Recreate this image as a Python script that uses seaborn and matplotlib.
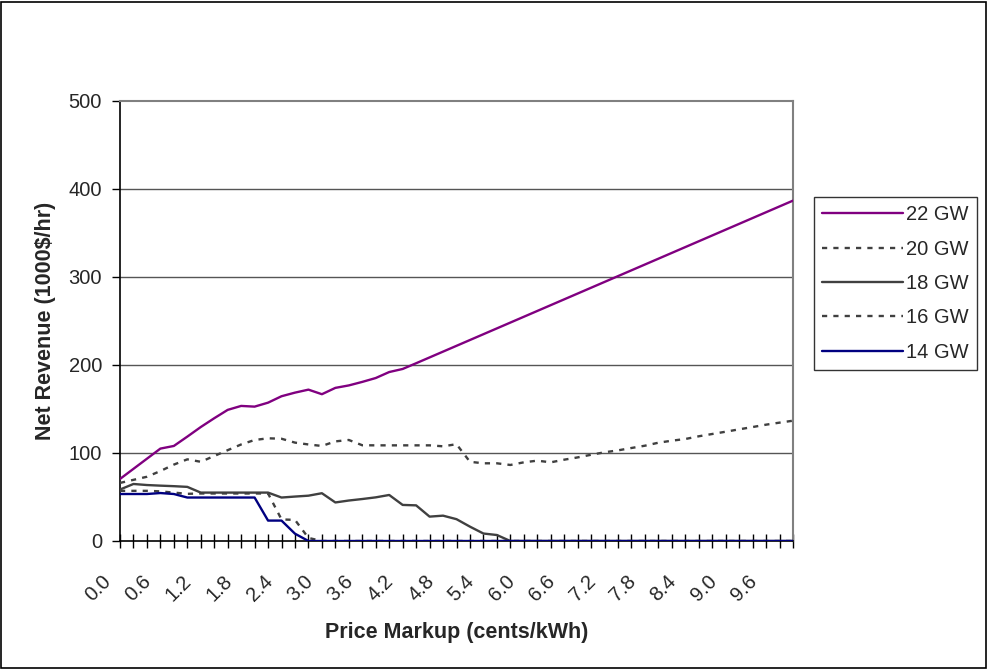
import matplotlib
matplotlib.use("Agg")
import matplotlib.pyplot as plt
from matplotlib.patches import Rectangle
import seaborn as sns
import pandas as pd

# Price markup categories (cents/kWh)
markup = [0.0, 0.2, 0.4, 0.6, 0.8, 1.0, 1.2, 1.4, 1.6, 1.8,
          2.0, 2.2, 2.4, 2.6, 2.8, 3.0, 3.2, 3.4, 3.6, 3.8,
          4.0, 4.2, 4.4, 4.6, 4.8, 5.0, 5.2, 5.4, 5.6, 5.8,
          6.0, 6.2, 6.4, 6.6, 6.8, 7.0, 7.2, 7.4, 7.6, 7.8,
          8.0, 8.2, 8.4, 8.6, 8.8, 9.0, 9.2, 9.4, 9.6, 9.8, 10.0]

# Net revenue (1000$/hr) for each system load level
rev_22gw = [70.5, 82.0, 93.5, 105.0, 108.0, 118.6, 129.5, 139.5, 149.0, 153.5,
            152.7, 157.2, 164.5, 168.6, 172.0, 166.8, 174.0, 176.8, 180.8, 185.2,
            192.0, 195.5, 202.0, 208.6, 215.2, 221.8, 228.4, 235.0, 241.6, 248.2,
            254.8, 261.4, 268.0, 274.6, 281.2, 287.8, 294.4, 301.0, 307.6, 314.2,
            320.8, 327.4, 334.0, 340.6, 347.2, 353.8, 360.4, 367.0, 373.6, 380.2,
            386.8]
rev_20gw = [66.0, 69.5, 73.0, 79.5, 86.8, 92.8, 90.0, 96.6, 103.2, 109.7,
            114.8, 116.7, 116.2, 111.8, 109.7, 108.0, 113.2, 114.8, 108.8, 108.7,
            108.7, 108.7, 108.7, 108.7, 107.6, 110.0, 90.0, 88.3, 88.3, 86.4,
            89.4, 91.3, 89.4, 92.4, 95.0, 98.0, 100.8, 103.0, 105.7, 108.3,
            111.7, 114.0, 115.9, 119.0, 121.6, 124.2, 126.9, 129.5, 132.2, 134.5,
            136.7]
rev_18gw = [58.5, 64.8, 63.6, 62.9, 62.3, 61.5, 55.0, 55.0, 55.0, 55.0,
            55.0, 55.0, 49.4, 50.5, 51.5, 54.3, 43.8, 46.0, 47.7, 49.6,
            52.3, 41.0, 40.5, 27.7, 28.8, 24.8, 16.3, 8.5, 6.8, 0.0,
            0.0, 0.0, 0.0, 0.0, 0.0, 0.0, 0.0, 0.0, 0.0, 0.0,
            0.0, 0.0, 0.0, 0.0, 0.0, 0.0, 0.0, 0.0, 0.0, 0.0,
            0.0]
rev_16gw = [57.0, 57.0, 57.0, 56.4, 55.0, 53.6, 54.0, 54.0, 54.0, 54.0,
            54.0, 54.0, 24.5, 24.0, 3.5, 0.0, 0.0, 0.0, 0.0, 0.0,
            0.0, 0.0, 0.0, 0.0, 0.0, 0.0, 0.0, 0.0, 0.0, 0.0,
            0.0, 0.0, 0.0, 0.0, 0.0, 0.0, 0.0, 0.0, 0.0, 0.0,
            0.0, 0.0, 0.0, 0.0, 0.0, 0.0, 0.0, 0.0, 0.0, 0.0,
            0.0]
rev_14gw = [53.4, 53.4, 53.4, 54.5, 53.4, 49.4, 49.4, 49.4, 49.4, 49.4,
            49.4, 23.2, 23.2, 8.3, 0.0, 0.0, 0.0, 0.0, 0.0, 0.0,
            0.0, 0.0, 0.0, 0.0, 0.0, 0.0, 0.0, 0.0, 0.0, 0.0,
            0.0, 0.0, 0.0, 0.0, 0.0, 0.0, 0.0, 0.0, 0.0, 0.0,
            0.0, 0.0, 0.0, 0.0, 0.0, 0.0, 0.0, 0.0, 0.0, 0.0,
            0.0]

series_labels = ["22 GW", "20 GW", "18 GW", "16 GW", "14 GW"]
y_ticks = [0, 100, 200, 300, 400, 500]

sns.set_theme(style="white")
plt.rcParams["font.family"] = ["Liberation Sans", "DejaVu Sans"]

fig = plt.figure(figsize=(9.88, 6.69), dpi=100)
ax = fig.add_axes([120 / 988, 1 - 541 / 669, 673 / 988, 440 / 669])

styles = [
    ("#800080", "-"),
    ("#404040", (0, (2.2, 2.6))),
    ("#404040", "-"),
    ("#404040", (0, (2.2, 2.6))),
    ("#000080", "-"),
]
all_series = [rev_22gw, rev_20gw, rev_18gw, rev_16gw, rev_14gw]

for label, values, (color, ls) in zip(series_labels, all_series, styles):
    df = pd.DataFrame({"markup": markup, "revenue": values})
    sns.lineplot(data=df, x="markup", y="revenue", ax=ax, color=color,
                 linestyle=ls, linewidth=1.7, label=label, zorder=3)

ax.set_xlim(markup[0], markup[-1])
ax.set_ylim(0, 500)

# Horizontal gridlines
ax.set_yticks(y_ticks)
ax.set_yticklabels([str(v) for v in y_ticks], fontsize=14.5)
for v in y_ticks[1:-1]:
    ax.axhline(v, color="#555555", linewidth=1.0, zorder=1)

# Category ticks on every markup; rotated labels on every third one,
# set down and to the left of their tick
ax.set_xticks(markup)
ax.set_xticklabels([])
for k, v in enumerate(markup):
    if k % 3 == 0:
        ax.annotate(f"{v:.1f}", xy=(v, 0), xycoords=("data", "axes fraction"),
                    xytext=(-13.5, -22.0), textcoords="offset points",
                    rotation=45, ha="right", va="top",
                    rotation_mode="anchor", fontsize=14.5, color="#262626",
                    annotation_clip=False)
ax.tick_params(axis="x", direction="inout", length=10, width=1,
               color="black", bottom=True)
ax.tick_params(axis="y", direction="out", length=6, width=1,
               color="black", pad=7, left=True)

for side in ["left", "bottom"]:
    ax.spines[side].set_color("black")
    ax.spines[side].set_linewidth(1.2)
for side in ["top", "right"]:
    ax.spines[side].set_color("#808080")
    ax.spines[side].set_linewidth(1.5)

ax.set_xlabel("Price Markup (cents/kWh)", fontsize=15.5, fontweight="bold")
ax.xaxis.set_label_coords(0.5, -0.183)
ax.set_ylabel("Net Revenue (1000$/hr)", fontsize=15.5, fontweight="bold",
              labelpad=9)

ax.legend_.remove()
handles, labels = ax.get_legend_handles_labels()
leg = fig.legend(handles, labels, loc="upper left",
                 bbox_to_anchor=(814 / 988, 1 - 197 / 669),
                 frameon=True, fancybox=False, fontsize=14.5,
                 handlelength=4.0, handletextpad=0.15, labelspacing=0.76,
                 borderpad=0.42, borderaxespad=0)
leg.get_frame().set_edgecolor("black")
leg.get_frame().set_linewidth(1.0)
leg.get_frame().set_facecolor("white")

# Outer chart border
fig.patches.append(Rectangle((0.001, 0.002), 0.997, 0.995, transform=fig.transFigure,
                             fill=False, edgecolor="black", linewidth=1.2))

fig.savefig("out.png", dpi=100, facecolor="white")
